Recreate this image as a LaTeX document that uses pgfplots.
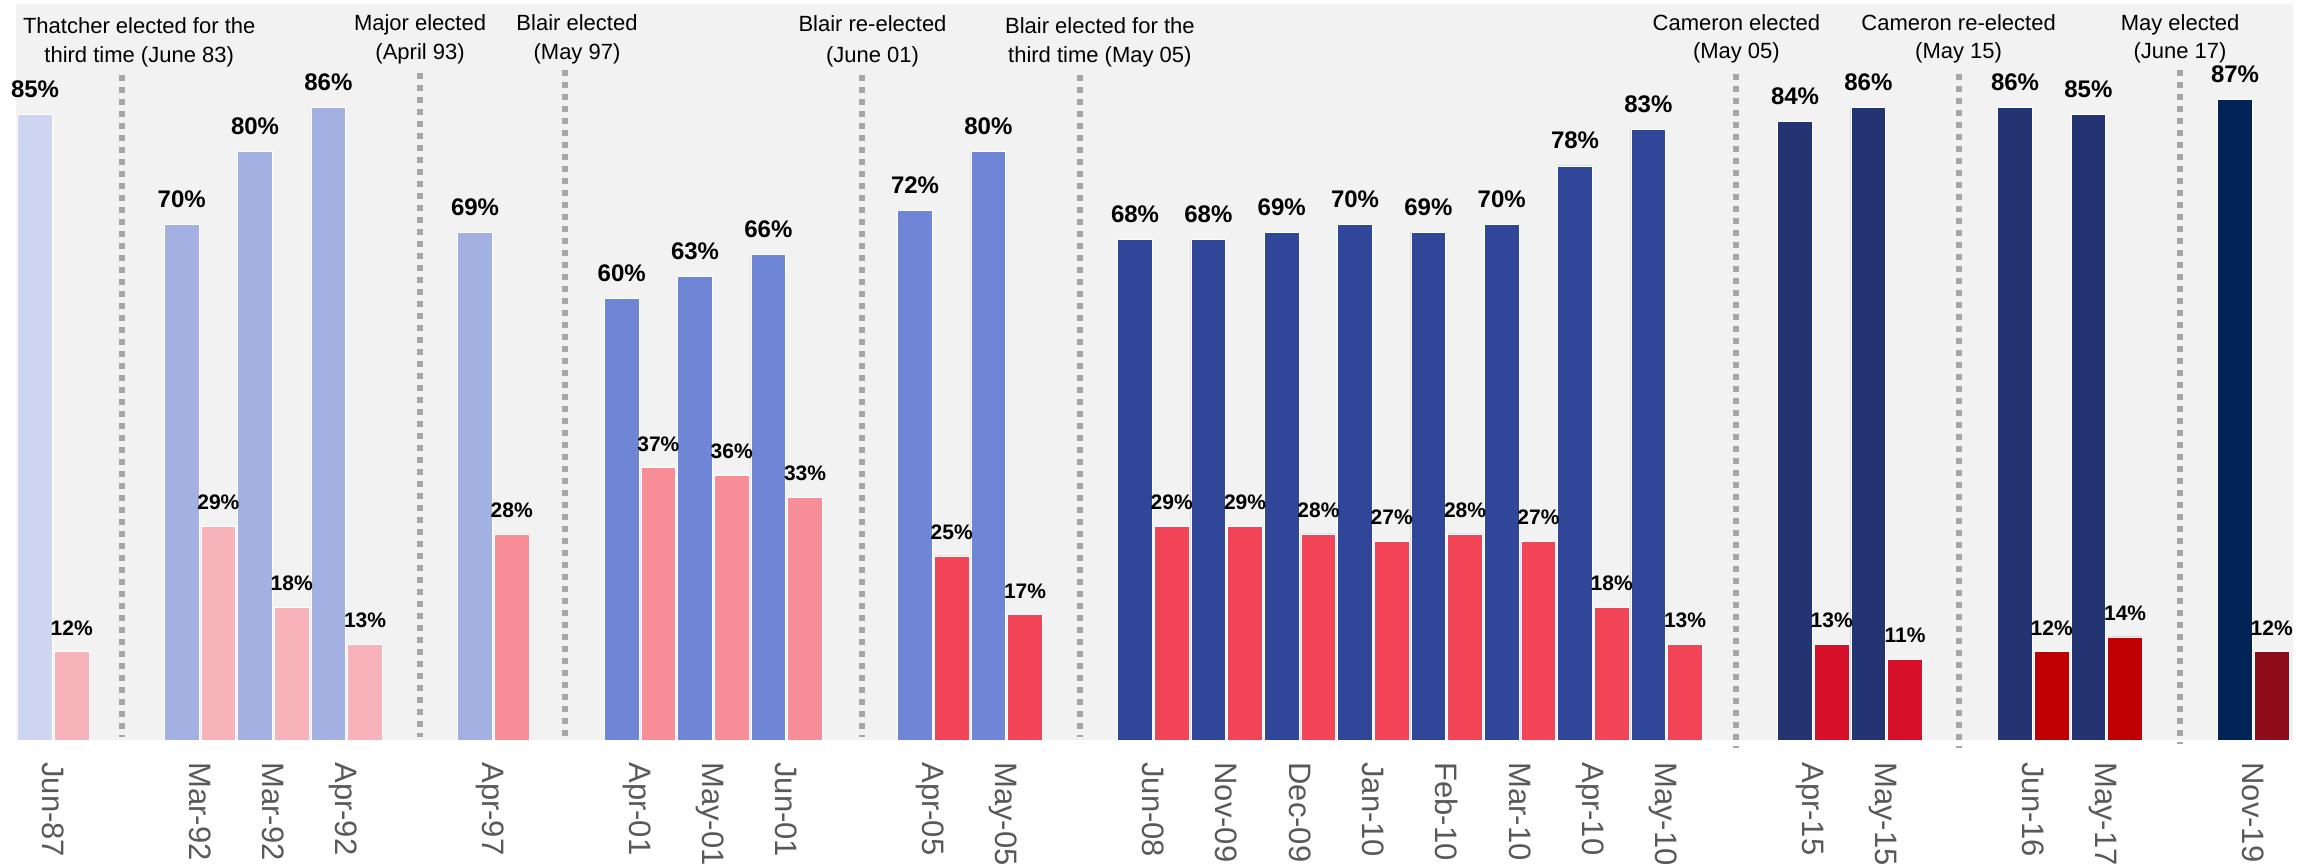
\documentclass[border=0pt]{standalone}
\usepackage{pgfplots}
\pgfplotsset{compat=1.18}
\usepackage{fontspec}
\setmainfont{Liberation Sans}
\usetikzlibrary{calc}

\definecolor{bggrey}{HTML}{F2F2F2}
\definecolor{sepgrey}{HTML}{A6A6A6}
\definecolor{ticktxt}{HTML}{595959}
\definecolor{bA}{HTML}{CDD5F0}
\definecolor{bB}{HTML}{A2B0E2}
\definecolor{bC}{HTML}{6F85D5}
\definecolor{bD}{HTML}{2F4699}
\definecolor{bE}{HTML}{243473}
\definecolor{bF}{HTML}{012356}
\definecolor{rA}{HTML}{F8B3BA}
\definecolor{rB}{HTML}{F78D97}
\definecolor{rC}{HTML}{F24457}
\definecolor{rD}{HTML}{D7102A}
\definecolor{rE}{HTML}{C00000}
\definecolor{rF}{HTML}{8E0C1A}

\pgfplotsset{
  bluebar/.style={ybar, bar width=0.475, bar shift=-0.25, fill=#1, draw=white, line width=0.4pt,
    nodes near coords={\pgfmathprintnumber{\pgfplotspointmeta}\%},
    nodes near coords style={anchor=base, xshift=-9.17pt, yshift=8.5pt, text=black,
      font=\bfseries\fontsize{12}{12}\selectfont}},
  redbar/.style={ybar, bar width=0.475, bar shift=0.25, fill=#1, draw=white, line width=0.4pt,
    nodes near coords={\pgfmathprintnumber{\pgfplotspointmeta}\%},
    nodes near coords style={anchor=base, xshift=9.17pt, yshift=8.3pt, text=black,
      font=\bfseries\fontsize{10.5}{10.5}\selectfont}},
}
\tikzset{sep/.style={sepgrey, line width=3pt, dash pattern=on 3pt off 3pt}}

% two-line annotation: x, baseline of line 1, baseline of line 2, line 1, line 2
\newcommand{\annot}[5]{%
  \node[anchor=base, inner sep=0pt, font=\fontsize{11}{13}\selectfont] at (axis cs:#1,#2) {#4};
  \node[anchor=base, inner sep=0pt, font=\fontsize{11}{13}\selectfont] at (axis cs:#1,#3) {#5};
}

\begin{document}
\begin{tikzpicture}
\begin{axis}[name=ax,
  width=1138.5pt, height=368pt, scale only axis,
  xmin=-0.51, xmax=30.54, ymin=0, ymax=100,
  clip=false,
  /pgf/number format/assume math mode=true,
  axis background/.style={fill=bggrey},
  axis line style={draw=none},
  tick style={draw=none},
  ytick=\empty,
  xtick={0,2,3,4,6,8,9,10,12,13,15,16,17,18,19,20,21,22,24,25,27,28,30},
  xticklabels={Jun-87,Mar-92,Mar-92,Apr-92,Apr-97,Apr-01,May-01,Jun-01,Apr-05,May-05,
    Jun-08,Nov-09,Dec-09,Jan-10,Feb-10,Mar-10,Apr-10,May-10,Apr-15,May-15,Jun-16,May-17,Nov-19},
  xticklabel shift=11pt,
  xticklabel style={rotate=-90, anchor=west, inner sep=0pt, text height=11pt, text depth=0pt,
    text=ticktxt, font=\fontsize{15.5}{15.5}\selectfont},
]
% election separators
\draw[sep] (axis cs:0.94,90.4) -- (axis cs:0.94,0.4);
\draw[sep] (axis cs:5,90.6) -- (axis cs:5,0.4);
\draw[sep] (axis cs:6.98,91) -- (axis cs:6.98,0.4);
\draw[sep] (axis cs:11.03,90.4) -- (axis cs:11.03,0.4);
\draw[sep] (axis cs:14,90.4) -- (axis cs:14,0.4);
\draw[sep] (axis cs:22.95,90.5) -- (axis cs:22.95,-1.1);
\draw[sep] (axis cs:25.98,90.5) -- (axis cs:25.98,-1.1);
\draw[sep] (axis cs:29,91) -- (axis cs:29,-0.6);

% blue series
\addplot[bluebar=bA] coordinates {(0,85)};
\addplot[bluebar=bB] coordinates {(2,70) (3,80) (4,86) (6,69)};
\addplot[bluebar=bC] coordinates {(8,60) (9,63) (10,66) (12,72) (13,80)};
\addplot[bluebar=bD] coordinates {(15,68) (16,68) (17,69) (18,70) (19,69) (20,70) (21,78) (22,83)};
\addplot[bluebar=bE] coordinates {(24,84) (25,86) (27,86) (28,85)};
\addplot[bluebar=bF] coordinates {(30,87)};
% red series
\addplot[redbar=rA] coordinates {(0,12) (2,29) (3,18) (4,13)};
\addplot[redbar=rB] coordinates {(6,28) (8,37) (9,36) (10,33)};
\addplot[redbar=rC] coordinates {(12,25) (13,17) (15,29) (16,29) (17,28) (18,27) (19,28) (20,27) (21,18) (22,13)};
\addplot[redbar=rD] coordinates {(24,13) (25,11)};
\addplot[redbar=rE] coordinates {(27,12) (28,14)};
\addplot[redbar=rF] coordinates {(30,12)};

\annot{1.17}{96.0}{92.0}{Thatcher elected for the}{third time (June 83)}
\annot{5.0}{96.4}{92.5}{Major elected}{(April 93)}
\annot{7.14}{96.4}{92.5}{Blair elected}{(May 97)}
\annot{11.17}{96.2}{92.1}{Blair re-elected}{(June 01)}
\annot{14.27}{96.0}{92.1}{Blair elected for the}{third time (May 05)}
\annot{22.95}{96.4}{92.6}{Cameron elected}{(May 05)}
\annot{25.98}{96.4}{92.6}{Cameron re-elected}{(May 15)}
\annot{29.0}{96.4}{92.6}{May elected}{(June 17)}
\end{axis}
\pgfresetboundingbox
\path[use as bounding box] ($(ax.south west)+(-8pt,-63.5pt)$) rectangle ($(ax.north east)+(10pt,2pt)$);
\end{tikzpicture}
\end{document}
